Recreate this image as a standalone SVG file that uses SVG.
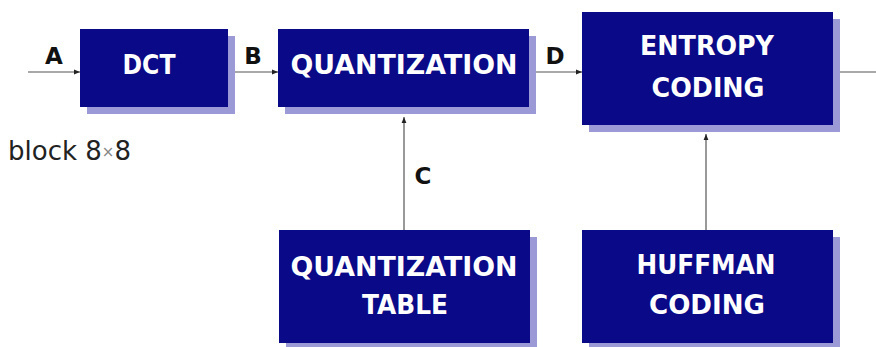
<svg xmlns="http://www.w3.org/2000/svg" width="876" height="347" viewBox="0 0 876 347">
<defs>
<style>
.box{fill:#0a0987}
.sh{fill:#9c9ad6}
.bt{fill:#ffffff;font-family:"DejaVu Sans",Verdana,sans-serif;font-weight:bold;font-size:26px;text-anchor:middle}
.lb{fill:#111;font-family:"DejaVu Sans",Verdana,sans-serif;font-weight:bold;font-size:23px;text-anchor:middle}
.ln{stroke:#555;stroke-width:1.2;fill:none}
</style>
<marker id="ah" viewBox="0 0 10 10" refX="10" refY="5" markerWidth="6" markerHeight="6" orient="auto" markerUnits="userSpaceOnUse">
<path d="M0,1 L10,5 L0,9 z" fill="#222"/>
</marker>
</defs>
<rect width="876" height="347" fill="#ffffff"/>
<g id="connectors">
<line class="ln" x1="28" y1="72" x2="80" y2="72" marker-end="url(#ah)"/>
<line class="ln" x1="228" y1="72" x2="278" y2="72" marker-end="url(#ah)"/>
<line class="ln" x1="529" y1="72" x2="582" y2="72" marker-end="url(#ah)"/>
<line class="ln" x1="833" y1="72" x2="876" y2="72"/>
<line class="ln" x1="404" y1="230" x2="404" y2="117" marker-end="url(#ah)"/>
<line class="ln" x1="706" y1="230" x2="706" y2="134" marker-end="url(#ah)"/>
<text class="lb" x="54" y="64">A</text>
<text class="lb" x="253" y="64">B</text>
<text class="lb" x="555" y="64">D</text>
<text class="lb" x="423" y="184">C</text>
</g>
<g id="dct">
<rect class="sh" x="87" y="36" width="148" height="78"/>
<rect class="box" x="80" y="29" width="148" height="78"/>
<text class="bt" x="149" y="74" textLength="53" lengthAdjust="spacingAndGlyphs">DCT</text>
</g>
<g id="quantization">
<rect class="sh" x="285" y="36" width="251" height="78"/>
<rect class="box" x="278" y="29" width="251" height="78"/>
<text class="bt" x="404" y="74" textLength="227" lengthAdjust="spacingAndGlyphs">QUANTIZATION</text>
</g>
<g id="entropy">
<rect class="sh" x="589" y="19" width="251" height="113"/>
<rect class="box" x="582" y="12" width="251" height="113"/>
<text class="bt" x="707" y="55" textLength="134" lengthAdjust="spacingAndGlyphs">ENTROPY</text>
<text class="bt" x="708" y="97" textLength="113" lengthAdjust="spacingAndGlyphs">CODING</text>
</g>
<g id="qtable">
<rect class="sh" x="286" y="237" width="251" height="113"/>
<rect class="box" x="279" y="230" width="251" height="113"/>
<text class="bt" x="404" y="276" textLength="227" lengthAdjust="spacingAndGlyphs">QUANTIZATION</text>
<text class="bt" x="405" y="314" textLength="86" lengthAdjust="spacingAndGlyphs">TABLE</text>
</g>
<g id="huffman">
<rect class="sh" x="589" y="237" width="251" height="113"/>
<rect class="box" x="582" y="230" width="251" height="113"/>
<text class="bt" x="706" y="274" textLength="139" lengthAdjust="spacingAndGlyphs">HUFFMAN</text>
<text class="bt" x="707" y="314" textLength="116" lengthAdjust="spacingAndGlyphs">CODING</text>
</g>
<g id="blocklabel">
<text x="8" y="160" font-family="'DejaVu Sans',Verdana,sans-serif" font-size="26" fill="#222">block 8<tspan font-size="15" fill="#888" dy="-3">×</tspan><tspan dy="3">8</tspan></text>
</g>
</svg>
